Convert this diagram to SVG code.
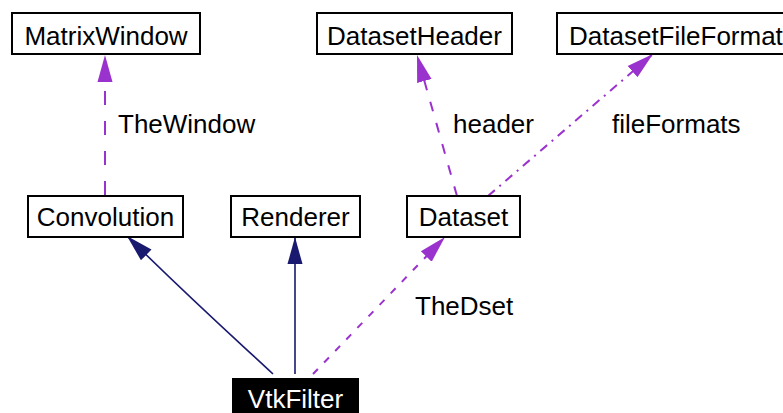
<svg xmlns="http://www.w3.org/2000/svg" width="783" height="413" viewBox="0 0 783 413">
  <style>
    .box { fill: #ffffff; stroke: #000000; stroke-width: 2; }
    .box-dark { fill: #000000; stroke: #000000; stroke-width: 2; }
    .label { font-family: "Liberation Sans", Arial, sans-serif; font-size: 26px; fill: #000000; }
    .label-dark { font-family: "Liberation Sans", Arial, sans-serif; font-size: 26px; fill: #ffffff; }
    .edge-name { font-family: "Liberation Sans", Arial, sans-serif; font-size: 26px; fill: #000000; }
    .inherit { fill: none; stroke: #191970; stroke-width: 1.6; }
    .usage { fill: none; stroke: #9a32cd; stroke-width: 2; }
  </style>
  <defs>
    <marker id="head-navy" markerUnits="userSpaceOnUse" markerWidth="30" markerHeight="20" viewBox="0 -10 30 20" refX="27" refY="0" orient="auto">
      <path d="M0,-7.5 L27,0 L0,7.5 Z" fill="#191970"/>
    </marker>
    <marker id="head-purple" markerUnits="userSpaceOnUse" markerWidth="30" markerHeight="20" viewBox="0 -10 30 20" refX="27" refY="0" orient="auto">
      <path d="M0,-7.5 L27,0 L0,7.5 Z" fill="#9a32cd"/>
    </marker>
  </defs>

  <rect width="783" height="413" fill="#ffffff"/>

  <!-- connectors -->
  <g id="edges">
    <path class="usage" d="M105,195 L105,55" stroke-dasharray="14,16" marker-end="url(#head-purple)"/>
    <path class="usage" d="M457,196 L417,55" stroke-dasharray="10,12" marker-end="url(#head-purple)"/>
    <path class="usage" d="M488,196 L653,54" stroke-dasharray="9,6,2,6" marker-end="url(#head-purple)"/>
    <path class="usage" d="M313,374 L445,237" stroke-dasharray="7,9" marker-end="url(#head-purple)"/>
    <path class="inherit" d="M273,374 C240,343 200,308 127,236" marker-end="url(#head-navy)"/>
    <path class="inherit" d="M295,374 L295,237" stroke-width="2" marker-end="url(#head-navy)"/>
    <text class="edge-name" x="118" y="133">TheWindow</text>
    <text class="edge-name" x="453" y="133">header</text>
    <text class="edge-name" x="612" y="133">fileFormats</text>
    <text class="edge-name" x="415" y="315">TheDset</text>
  </g>

  <!-- nodes -->
  <g id="node-MatrixWindow">
    <rect class="box" x="12" y="13" width="188" height="41"/>
    <text class="label" x="106" y="45" text-anchor="middle">MatrixWindow</text>
  </g>
  <g id="node-DatasetHeader">
    <rect class="box" x="317" y="13" width="195" height="41"/>
    <text class="label" x="414.5" y="45" text-anchor="middle">DatasetHeader</text>
  </g>
  <g id="node-DatasetFileFormat">
    <rect class="box" x="557" y="13" width="240" height="41"/>
    <text class="label" x="569" y="45">DatasetFileFormat</text>
  </g>
  <g id="node-Convolution">
    <rect class="box" x="28" y="196" width="155" height="41"/>
    <text class="label" x="105.5" y="226" text-anchor="middle">Convolution</text>
  </g>
  <g id="node-Renderer">
    <rect class="box" x="231" y="196" width="129" height="41"/>
    <text class="label" x="295.5" y="226" text-anchor="middle">Renderer</text>
  </g>
  <g id="node-Dataset">
    <rect class="box" x="407" y="196" width="113" height="41"/>
    <text class="label" x="463.5" y="226" text-anchor="middle">Dataset</text>
  </g>
  <g id="node-VtkFilter">
    <rect class="box-dark" x="233" y="379" width="125" height="44"/>
    <text class="label-dark" x="295.5" y="408" text-anchor="middle">VtkFilter</text>
  </g>
</svg>
